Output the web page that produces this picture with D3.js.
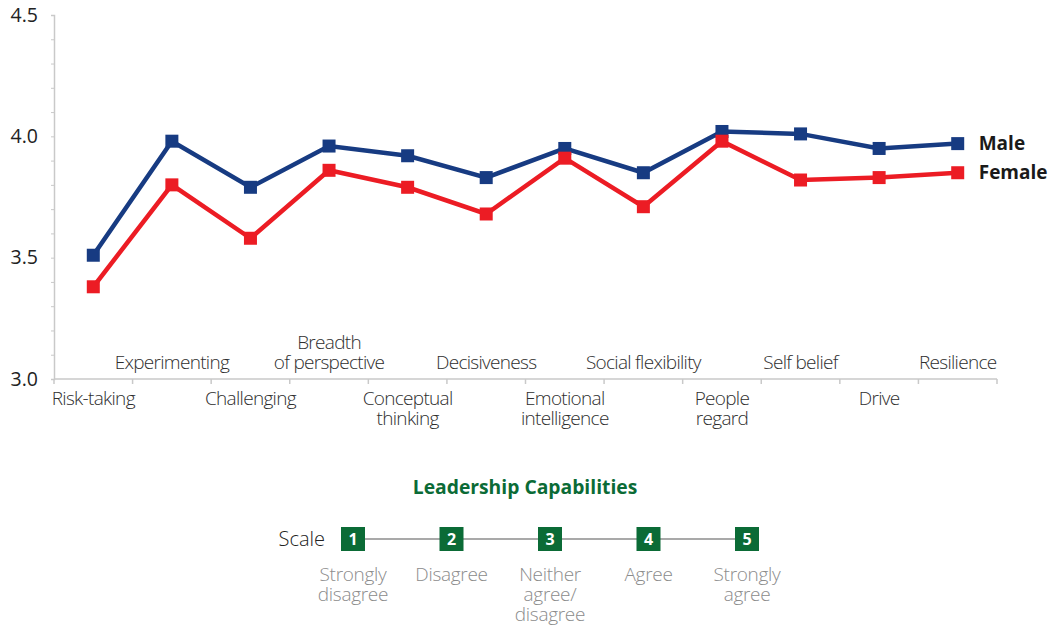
<!DOCTYPE html>
<html>
<head>
<meta charset="utf-8">
<script src="https://cdn.jsdelivr.net/npm/d3@7"></script>
<style>
  html, body { margin: 0; padding: 0; background: #fff; }
  svg { display: block; font-family: "Open Sans", "Noto Sans", sans-serif; }
</style>
</head>
<body>
<svg id="chart" width="1049" height="626"></svg>
<script>
// Leadership capability scores by gender
const categories = [
  "Risk-taking", "Experimenting", "Challenging", "Breadth of perspective",
  "Conceptual thinking", "Decisiveness", "Emotional intelligence", "Social flexibility",
  "People regard", "Self belief", "Drive", "Resilience"
];
// Label lines for each category (wrapped labels)
const categoryLines = [
  ["Risk-taking"], ["Experimenting"], ["Challenging"], ["Breadth", "of perspective"],
  ["Conceptual", "thinking"], ["Decisiveness"], ["Emotional", "intelligence"], ["Social flexibility"],
  ["People", "regard"], ["Self belief"], ["Drive"], ["Resilience"]
];
const maleValues   = [3.51, 3.98, 3.79, 3.96, 3.92, 3.83, 3.95, 3.85, 4.02, 4.01, 3.95, 3.97];
const femaleValues = [3.38, 3.80, 3.58, 3.86, 3.79, 3.68, 3.91, 3.71, 3.98, 3.82, 3.83, 3.85];
const seriesNames  = ["Male", "Female"];
const seriesColors = ["#173b82", "#ec1c24"];
const yTickLabels  = [3.0, 3.5, 4.0, 4.5];

// Response scale key
const scaleValues = ["1", "2", "3", "4", "5"];
const scaleLabels = [["Strongly", "disagree"], ["Disagree"], ["Neither", "agree/", "disagree"], ["Agree"], ["Strongly", "agree"]];

const svg = d3.select("#chart");

const x = d3.scaleBand().domain(categories).range([54, 997]).padding(0);
const y = d3.scaleLinear().domain([3.0, 4.5]).range([379, 15]);

const axisColor = "#c9c9c9";

// Y axis: minor ticks every 0.1, labels every 0.5
const yAxis = d3.axisLeft(y)
  .tickValues(d3.range(30, 46).map(v => v / 10))
  .tickSize(3)
  .tickFormat(d => yTickLabels.some(t => Math.abs(t - d) < 1e-9) ? d3.format(".1f")(d) : "");
const gy = svg.append("g").attr("transform", "translate(54,0)").call(yAxis);
gy.select(".domain").attr("stroke", axisColor).attr("stroke-width", 1.5);
gy.selectAll(".tick line").attr("stroke", axisColor);
gy.selectAll(".tick text")
  .attr("x", -16)
  .attr("font-size", 19.5)
  .attr("fill", "#222")
  .attr("font-family", "'Open Sans', sans-serif");

// X axis baseline and band-boundary ticks
const gx = svg.append("g");
gx.append("line")
  .attr("x1", x.range()[0]).attr("x2", x.range()[1])
  .attr("y1", y(3.0)).attr("y2", y(3.0))
  .attr("stroke", axisColor).attr("stroke-width", 1.5);
const boundaries = categories.map(c => x(c)).concat([x.range()[1]]);
gx.selectAll("line.tick").data(boundaries).join("line")
  .attr("class", "tick")
  .attr("x1", d => d).attr("x2", d => d)
  .attr("y1", y(3.0)).attr("y2", y(3.0) + 5)
  .attr("stroke", axisColor).attr("stroke-width", 1.5);

// Category labels, alternating above and below the axis
const labelG = svg.append("g")
  .attr("font-size", 19)
  .attr("font-weight", 300)
  .attr("letter-spacing", "-0.7px")
  .attr("fill", "#2e2e2e")
  .attr("text-anchor", "middle");
categories.forEach((c, i) => {
  const cx = x(c) + x.bandwidth() / 2;
  const lines = categoryLines[i];
  const lh = 20;
  const t = labelG.append("text").attr("x", cx);
  if (i % 2 === 1) {
    // above the axis, last line sits on baseline 369
    const base = 369 - (lines.length - 1) * lh;
    lines.forEach((ln, k) => t.append("tspan").attr("x", cx).attr("y", base + k * lh).text(ln));
  } else {
    lines.forEach((ln, k) => t.append("tspan").attr("x", cx).attr("y", 405 + k * lh).text(ln));
  }
});

// Lines and square markers
const series = [maleValues, femaleValues];
const line = d3.line()
  .x((d, i) => x(categories[i]) + x.bandwidth() / 2)
  .y(d => y(d));
const msize = 13;
series.forEach((vals, si) => {
  const g = svg.append("g");
  g.append("path")
    .datum(vals)
    .attr("d", line)
    .attr("fill", "none")
    .attr("stroke", seriesColors[si])
    .attr("stroke-width", 4.5)
    .attr("stroke-linejoin", "miter");
  g.selectAll("rect").data(vals).join("rect")
    .attr("x", (d, i) => x(categories[i]) + x.bandwidth() / 2 - msize / 2)
    .attr("y", d => y(d) - msize / 2)
    .attr("width", msize).attr("height", msize)
    .attr("fill", seriesColors[si]);
  // series name at the end of the line
  const last = vals.length - 1;
  g.append("text")
    .attr("x", x(categories[last]) + x.bandwidth() / 2 + 21)
    .attr("y", y(vals[last]))
    .attr("dy", "0.35em")
    .attr("font-size", 19)
    .attr("font-weight", 700)
    .attr("fill", "#1a1a1a")
    .text(seriesNames[si]);
});

// Title
svg.append("text")
  .attr("x", 525).attr("y", 494)
  .attr("text-anchor", "middle")
  .attr("font-size", 19.3)
  .attr("font-weight", 700)
  .attr("fill", "#0b6b36")
  .text("Leadership Capabilities");

// Scale key
const sx = d3.scalePoint().domain(scaleValues).range([353, 747]);
const keyY = 539;
const key = svg.append("g");
key.append("text")
  .attr("x", 325).attr("y", keyY).attr("dy", "0.35em")
  .attr("text-anchor", "end")
  .attr("font-size", 20).attr("font-weight", 300)
  .attr("fill", "#222")
  .text("Scale");
key.append("line")
  .attr("x1", sx(scaleValues[0])).attr("x2", sx(scaleValues[scaleValues.length - 1]))
  .attr("y1", keyY).attr("y2", keyY)
  .attr("stroke", "#555").attr("stroke-width", 1.2);
const boxes = key.selectAll("g.box").data(scaleValues).join("g")
  .attr("class", "box")
  .attr("transform", d => `translate(${sx(d)},${keyY})`);
boxes.append("rect")
  .attr("x", -12).attr("y", -12).attr("width", 24).attr("height", 24)
  .attr("fill", "#0b6b36");
boxes.append("text")
  .attr("dy", "0.36em")
  .attr("text-anchor", "middle")
  .attr("font-size", 16).attr("font-weight", 700)
  .attr("fill", "#fff")
  .text(d => d);
scaleValues.forEach((v, i) => {
  const t = key.append("text")
    .attr("text-anchor", "middle")
    .attr("font-size", 19).attr("font-weight", 300)
    .attr("letter-spacing", "-0.3px")
    .attr("fill", "#8c8c8c");
  scaleLabels[i].forEach((ln, k) =>
    t.append("tspan").attr("x", sx(v)).attr("y", 581 + k * 20).text(ln));
});
</script>
</body>
</html>
